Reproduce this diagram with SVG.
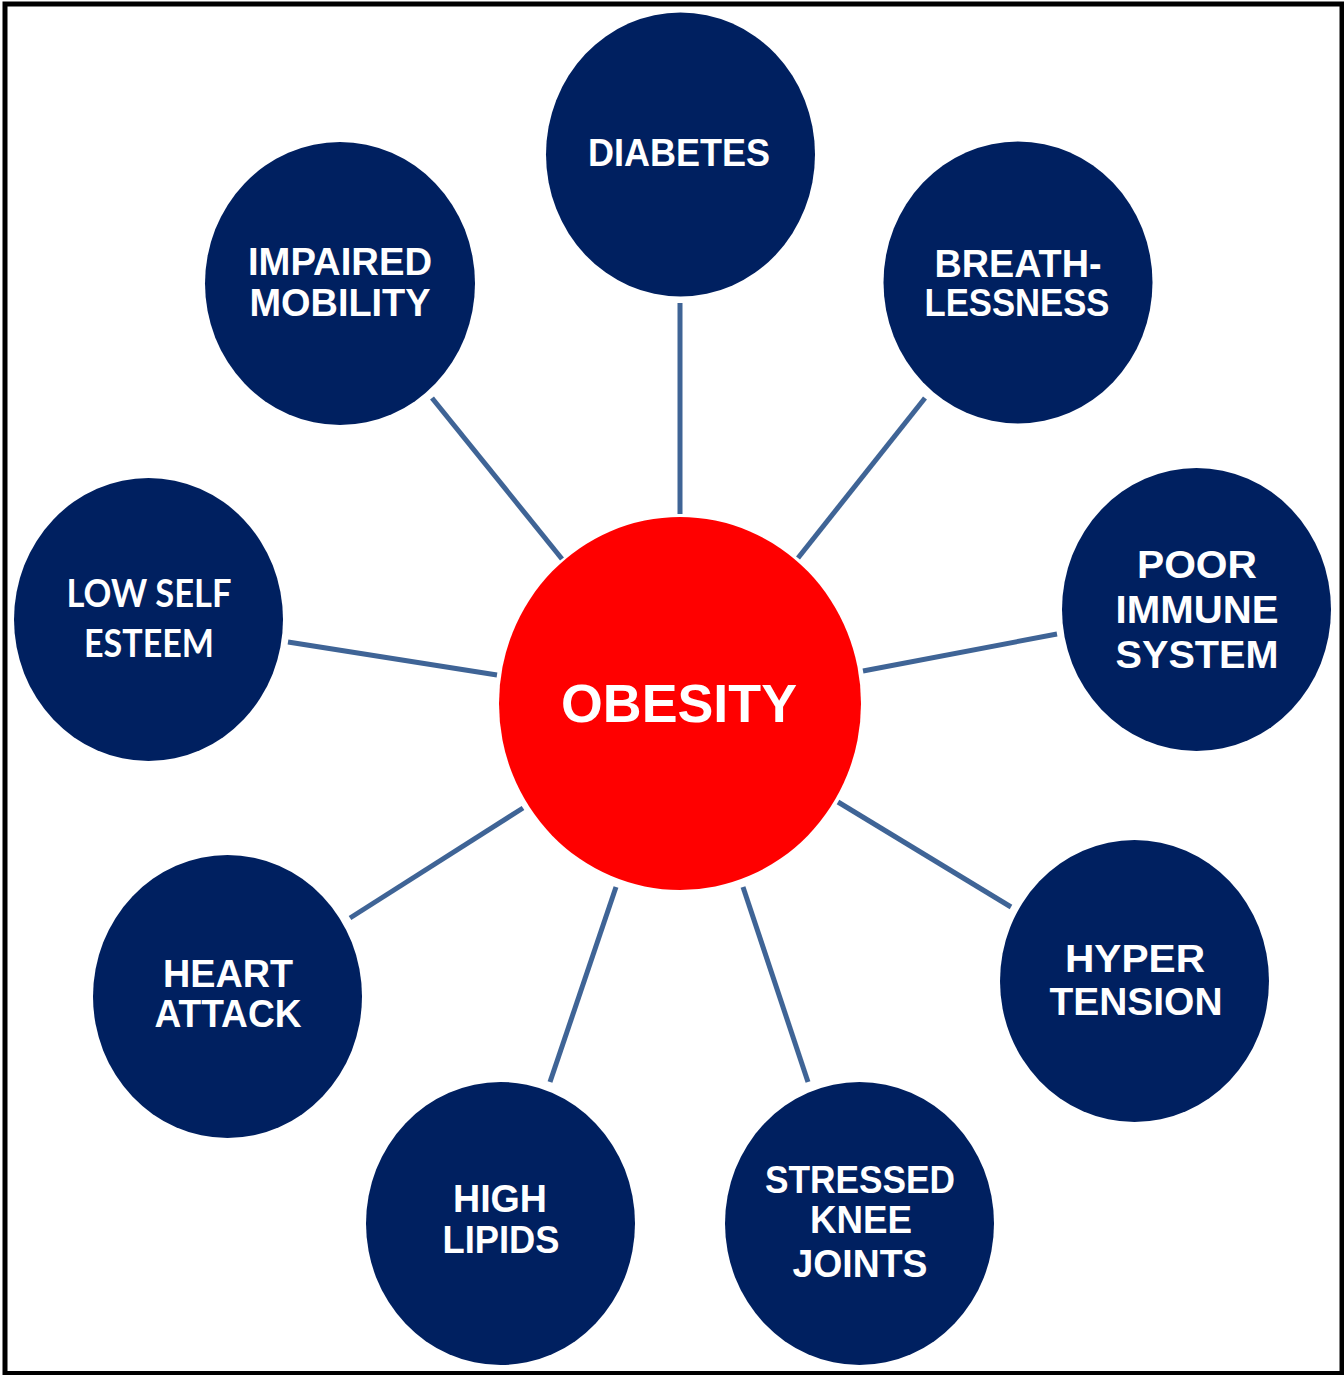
<svg xmlns="http://www.w3.org/2000/svg" width="1344" height="1375" viewBox="0 0 1344 1375">
<style>
.n{fill:#002060}
.c{fill:#ff0000}
.t{font-family:"Liberation Sans",Arial,sans-serif;font-weight:bold;font-size:39px;fill:#ffffff;text-anchor:middle}
.tc{font-family:Lato,"Liberation Sans",sans-serif;font-weight:bold;font-size:38px;fill:#ffffff;text-anchor:middle}
.big{font-size:54px}
.e{stroke:#3f6496;stroke-width:5;stroke-linecap:butt;fill:none}
</style>
<rect x="0" y="0" width="1344" height="1375" fill="#ffffff"/>
<rect x="5" y="4" width="1337" height="1369.5" fill="none" stroke="#000000" stroke-width="5"/>
<g id="connectors">
<line class="e" x1="680" y1="303" x2="680" y2="514"/>
<line class="e" x1="432" y1="398" x2="562" y2="559"/>
<line class="e" x1="925" y1="398" x2="798" y2="558"/>
<line class="e" x1="288" y1="642" x2="497" y2="675"/>
<line class="e" x1="1057" y1="634" x2="863" y2="671"/>
<line class="e" x1="350" y1="918" x2="523" y2="808"/>
<line class="e" x1="1011" y1="907" x2="838" y2="802"/>
<line class="e" x1="550" y1="1082" x2="616" y2="887"/>
<line class="e" x1="808" y1="1082" x2="743" y2="887"/>
</g>
<g id="obesity">
<ellipse class="c" cx="680" cy="703.5" rx="181" ry="186.5"/>
<text class="t big" x="679" y="722" textLength="236" lengthAdjust="spacingAndGlyphs">OBESITY</text>
</g>
<g id="diabetes">
<ellipse class="n" cx="680.5" cy="154.5" rx="134.5" ry="142"/>
<text class="t" x="679" y="166" textLength="182" lengthAdjust="spacingAndGlyphs">DIABETES</text>
</g>
<g id="impaired-mobility">
<ellipse class="n" cx="340" cy="283.5" rx="135" ry="141.5"/>
<text class="t" x="340" y="275" textLength="184" lengthAdjust="spacingAndGlyphs">IMPAIRED</text>
<text class="t" x="340" y="316" textLength="181" lengthAdjust="spacingAndGlyphs">MOBILITY</text>
</g>
<g id="breathlessness">
<ellipse class="n" cx="1018" cy="282.5" rx="134.5" ry="141"/>
<text class="t" x="1018" y="277" textLength="167" lengthAdjust="spacingAndGlyphs">BREATH-</text>
<text class="t" x="1017" y="316" textLength="185" lengthAdjust="spacingAndGlyphs">LESSNESS</text>
</g>
<g id="low-self-esteem">
<ellipse class="n" cx="148.5" cy="619.5" rx="134.5" ry="141.5"/>
<text class="tc" x="149" y="607" textLength="165" lengthAdjust="spacingAndGlyphs">LOW SELF</text>
<text class="tc" x="149" y="657" textLength="130" lengthAdjust="spacingAndGlyphs">ESTEEM</text>
</g>
<g id="poor-immune-system">
<ellipse class="n" cx="1196.5" cy="609.5" rx="134.5" ry="141.5"/>
<text class="t" x="1197" y="578" textLength="120" lengthAdjust="spacingAndGlyphs">POOR</text>
<text class="t" x="1197" y="623" textLength="163" lengthAdjust="spacingAndGlyphs">IMMUNE</text>
<text class="t" x="1197" y="668" textLength="163" lengthAdjust="spacingAndGlyphs">SYSTEM</text>
</g>
<g id="heart-attack">
<ellipse class="n" cx="227.5" cy="996.5" rx="134.5" ry="141.5"/>
<text class="t" x="228" y="987" textLength="130" lengthAdjust="spacingAndGlyphs">HEART</text>
<text class="t" x="228" y="1027" textLength="147" lengthAdjust="spacingAndGlyphs">ATTACK</text>
</g>
<g id="hyper-tension">
<ellipse class="n" cx="1134.5" cy="981" rx="134.5" ry="141"/>
<text class="t" x="1135" y="972" textLength="140" lengthAdjust="spacingAndGlyphs">HYPER</text>
<text class="t" x="1136" y="1015" textLength="173" lengthAdjust="spacingAndGlyphs">TENSION</text>
</g>
<g id="high-lipids">
<ellipse class="n" cx="500.5" cy="1223.5" rx="134.5" ry="141.5"/>
<text class="t" x="500" y="1212" textLength="94" lengthAdjust="spacingAndGlyphs">HIGH</text>
<text class="t" x="501" y="1253" textLength="117" lengthAdjust="spacingAndGlyphs">LIPIDS</text>
</g>
<g id="stressed-knee-joints">
<ellipse class="n" cx="859.5" cy="1223.5" rx="134.5" ry="141.5"/>
<text class="t" x="860" y="1193" textLength="190" lengthAdjust="spacingAndGlyphs">STRESSED</text>
<text class="t" x="861" y="1233" textLength="102" lengthAdjust="spacingAndGlyphs">KNEE</text>
<text class="t" x="860" y="1277" textLength="135" lengthAdjust="spacingAndGlyphs">JOINTS</text>
</g>
</svg>
